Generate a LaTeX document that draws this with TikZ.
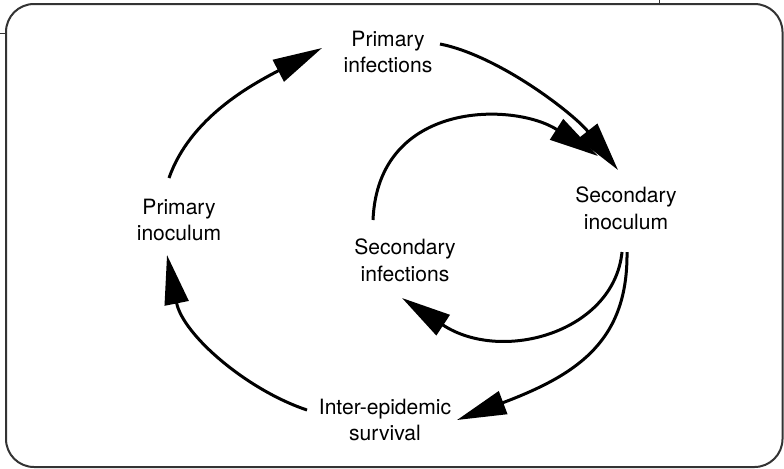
\documentclass[tikz,border=0pt]{standalone}
\usepackage{fontspec}
\setmainfont{TeX Gyre Heros}
\usetikzlibrary{arrows.meta}
\begin{document}
\begin{tikzpicture}[x=0.75pt,y=-0.75pt,
  stage/.style={align=center,inner sep=0pt,font=\fontsize{15.8}{20}\selectfont},
  flow/.style={line width=2.25pt,-{Triangle[length=37pt,width=18pt]}}]
\useasboundingbox (0,0) rectangle (784,468);
\draw[line width=1.5pt,black!80,rounded corners=21pt] (6,4) rectangle (782.5,467);
\draw[line width=0.75pt,black!80] (0,33)--(6,33);
\draw[line width=0.75pt,black!80] (659,0)--(659,4);
\node[stage] (pinf) at (388,52) {Primary\\infections};
\node[stage] (sinoc) at (626,208) {Secondary\\inoculum};
\node[stage] (pinoc) at (179,220) {Primary\\inoculum};
\node[stage] (sinf) at (405,260) {Secondary\\infections};
\node[stage] (ies) at (385,420) {Inter-epidemic\\survival};
\draw[flow] ([shift={(-10,-42)}]pinoc.center) .. controls +(21,-60) and +(-71,37) .. ([shift={(-66,-4)}]pinf.center);
\draw[flow] ([shift={(52,-8)}]pinf.center) .. controls +(60,12) and +(-43,-55) .. ([shift={(-8,-38)}]sinoc.center);
\draw[flow] ([shift={(-32,-40)}]sinf.center) .. controls +(5,-120) and +(-84,-54) .. ([shift={(-28,-52)}]sinoc.center);
\draw[flow] ([shift={(-4,44)}]sinoc.center) .. controls +(-8,80) and +(100,66) .. ([shift={(-3,38)}]sinf.center);
\draw[flow] ([shift={(1,44)}]sinoc.center) .. controls +(1,88) and +(122,-46) .. ([shift={(72,0)}]ies.center);
\draw[flow] ([shift={(-78,-10)}]ies.center) .. controls +(-60,-20) and +(16,80) .. ([shift={(-12,35)}]pinoc.center);
\end{tikzpicture}
\end{document}
